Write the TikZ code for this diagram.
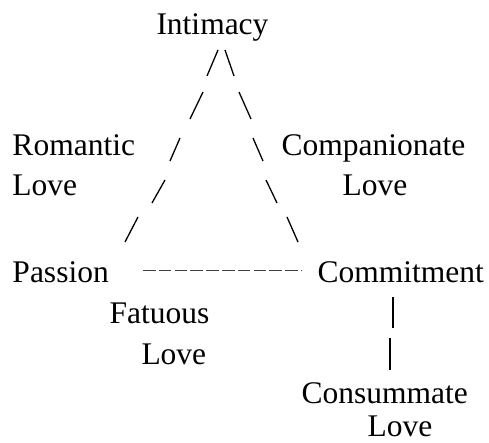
\documentclass[tikz,border=0pt]{standalone}
\usepackage{fontspec}
\setmainfont{Liberation Serif}
\begin{document}
\begin{tikzpicture}[x=1pt,y=-1pt,
  lbl/.style={anchor=base west,inner sep=0pt,outer sep=0pt,font=\fontsize{31.5}{40}\selectfont},
  stroke/.style={line width=1.3pt,black},
  dashline/.style={line width=1.3pt,black!75,dash pattern=on 12.6pt off 3.2pt}]
\useasboundingbox (0,0) rectangle (489,443);
% labels
\node[lbl] (intimacy) at (156.5,35) {Intimacy};
\node[lbl] (romantic) at (12.5,156) {Romantic};
\node[lbl] (romlove) at (12.5,196) {Love};
\node[lbl] (companionate) at (281.5,156) {Companionate};
\node[lbl] (comlove) at (342.5,196) {Love};
\node[lbl] (passion) at (12.5,282) {Passion};
\node[lbl] (commitment) at (317.5,282) {Commitment};
\node[lbl] (fatuous) at (109.5,323) {Fatuous};
\node[lbl] (fatlove) at (141.5,364) {Love};
\node[lbl] (consummate) at (301.5,403) {Consummate};
\node[lbl] (conlove) at (367.5,436) {Love};
% left side of triangle
\draw[stroke] (218,50) -- (207,76);
\draw[stroke] (203,92) -- (190,119);
\draw[stroke] (180,138) -- (170,161);
\draw[stroke] (165,180) -- (152,203);
\draw[stroke] (138,217) -- (125,242);
% right side of triangle
\draw[stroke] (225,50) -- (234,76);
\draw[stroke] (239,92) -- (251,119);
\draw[stroke] (253,138) -- (263,161);
\draw[stroke] (266,180) -- (277,203);
\draw[stroke] (287,217) -- (298,242);
% base
\coordinate (d1) at (143,270.7);
\coordinate (d2) at (301.2,270.7);
\draw[dashline] (d1) -- (d2);
% commitment to consummate
\draw[stroke] (393,297) -- (393,328);
\draw[stroke] (390,338) -- (390,370);
\end{tikzpicture}
\end{document}
